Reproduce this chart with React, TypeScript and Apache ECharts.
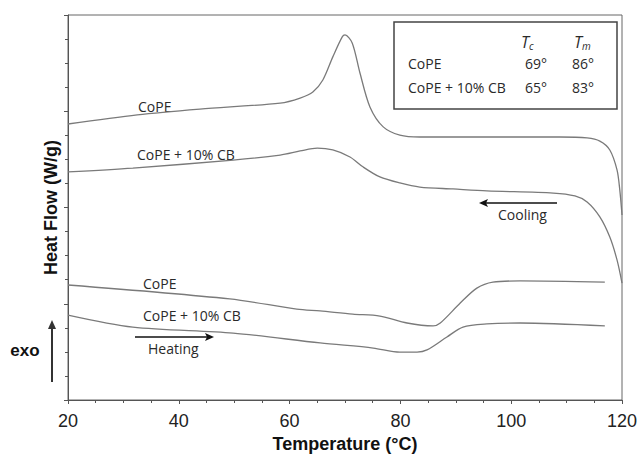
import React, { useEffect, useRef } from "react";
import * as echarts from "echarts";

// Temperature (°C) and heat flow (arbitrary units, offset curves)
const coolCoPET = [20, 32.5, 43.8, 58.3, 61.9, 64.2, 66.0, 67.8, 69.5, 70.0, 71.3, 72.7, 74.5, 76.9, 79.9, 83.5, 89.5, 101.6, 108.8, 113.7, 116.0, 117.8, 119.1, 119.6, 120];
const coolCoPEHF = [11.47, 11.85, 12.09, 12.34, 12.55, 12.8, 13.3, 14.26, 15.09, 15.17, 14.84, 13.59, 12.18, 11.35, 11.01, 10.93, 10.93, 10.93, 10.93, 10.89, 10.76, 10.39, 9.56, 8.73, 7.69];

const coolCBT = [20, 31.7, 49.8, 58.3, 61.9, 65.0, 67.8, 70.9, 73.3, 76.3, 79.9, 83.5, 89.5, 95.6, 107.6, 111.5, 113.7, 116.0, 117.8, 119.1, 120];
const coolCBHF = [9.48, 9.64, 9.97, 10.18, 10.35, 10.47, 10.39, 10.1, 9.68, 9.27, 9.02, 8.85, 8.77, 8.69, 8.6, 8.48, 8.23, 7.61, 6.77, 5.82, 4.86];

const heatCoPET = [20, 49.2, 61.3, 65.5, 71.4, 76.3, 81.2, 85.9, 87.2, 90.8, 93.8, 96.7, 101.6, 116.9];
const heatCoPEHF = [4.78, 4.2, 3.78, 3.7, 3.57, 3.49, 3.2, 3.08, 3.2, 4.03, 4.65, 4.9, 4.95, 4.9];

const heatCBT = [20, 31.7, 49.8, 65.5, 75.1, 79.9, 83.0, 84.8, 88.4, 91.3, 95.6, 101.6, 116.9];
const heatCBHF = [3.53, 3.03, 2.78, 2.37, 2.16, 1.99, 1.99, 2.08, 2.62, 3.03, 3.16, 3.2, 3.08];

const tableRows = ["CoPE", "CoPE + 10% CB"];
const tcValues = ["69°", "65°"];
const tmValues = ["86°", "83°"];

const zip = (xs: number[], ys: number[]) => xs.map((x, i) => [x, ys[i]]);

const LINE = "#7a7a7a";
const TXT = "#2a2a2a";
const labelFont = '14px "Open Sans", sans-serif';

export default function App() {
  const ref = useRef<HTMLDivElement>(null);
  useEffect(() => {
    if (!ref.current) return;
    const chart = echarts.init(ref.current, null, { renderer: "svg" });
    const mk = (name: string, xs: number[], ys: number[]) => ({
      name,
      type: "line",
      data: zip(xs, ys),
      showSymbol: false,
      smooth: 0.3,
      lineStyle: { color: LINE, width: 1.3 },
    });
    const txt = (x: number, y: number, text: string, extra: any = {}) => ({
      type: "text",
      x,
      y,
      style: { text, font: labelFont, fill: TXT, verticalAlign: "middle", ...extra },
    });
    const sub = (x: number, y: number, s: string) => ({
      type: "text",
      x,
      y,
      style: {
        text: "{i|T}{s|" + s + "}",
        verticalAlign: "middle",
        rich: {
          i: { font: 'italic 16px "Open Sans", sans-serif', fill: TXT },
          s: { font: 'italic 10px "Open Sans", sans-serif', fill: TXT, verticalAlign: "bottom", padding: [7, 0, 0, 0] },
        },
      },
    });
    chart.setOption({
      animation: false,
      backgroundColor: "#fff",
      grid: {
        left: 68,
        top: 15,
        right: 17,
        bottom: 55,
        show: true,
        borderColor: "#666",
        borderWidth: 1,
        containLabel: false,
        outerBoundsMode: "none",
      },
      xAxis: {
        type: "value",
        min: 20,
        max: 120,
        interval: 20,
        name: "Temperature (°C)",
        nameLocation: "middle",
        nameGap: 35,
        nameTextStyle: { fontFamily: "Liberation Sans", fontWeight: "bold", fontSize: 18, color: "#111" },
        axisLine: { lineStyle: { color: "#555" } },
        axisTick: { length: 4, lineStyle: { color: "#555" } },
        minorTick: { show: true, splitNumber: 4, length: 3, lineStyle: { color: "#555" } },
        axisLabel: { fontFamily: "Liberation Sans", fontSize: 18, color: "#222", margin: 12 },
        splitLine: { show: false },
      },
      yAxis: {
        type: "value",
        min: 0,
        max: 16,
        interval: 4,
        name: "Heat Flow (W/g)",
        nameLocation: "middle",
        nameGap: 8,
        nameTextStyle: { fontFamily: "Liberation Sans", fontWeight: "bold", fontSize: 18, color: "#111" },
        axisLine: { show: true, lineStyle: { color: "#555" } },
        axisTick: { show: true, length: 4, lineStyle: { color: "#555" } },
        minorTick: { show: true, splitNumber: 4, length: 3, lineStyle: { color: "#555" } },
        axisLabel: { show: false },
        splitLine: { show: false },
      },
      series: [
        mk("CoPE cooling", coolCoPET, coolCoPEHF),
        mk("CoPE + 10% CB cooling", coolCBT, coolCBHF),
        mk("CoPE heating", heatCoPET, heatCoPEHF),
        mk("CoPE + 10% CB heating", heatCBT, heatCBHF),
      ],
      graphic: [
        txt(138, 106, "CoPE"),
        txt(137, 154, "CoPE + 10% CB"),
        txt(143, 283, "CoPE"),
        txt(143, 315, "CoPE + 10% CB"),
        txt(148, 348, "Heating"),
        txt(498, 214, "Cooling"),
        // heating arrow
        { type: "line", shape: { x1: 135, y1: 337, x2: 211, y2: 337 }, style: { stroke: "#111", lineWidth: 1.3 } },
        { type: "polygon", shape: { points: [[214, 337], [205, 333], [207, 337], [205, 341]] }, style: { fill: "#111" } },
        // cooling arrow
        { type: "line", shape: { x1: 483, y1: 203, x2: 557, y2: 203 }, style: { stroke: "#111", lineWidth: 1.5 } },
        { type: "polygon", shape: { points: [[479, 203], [488, 199], [486, 203], [488, 207]] }, style: { fill: "#111" } },
        // exo arrow
        { type: "line", shape: { x1: 52, y1: 382, x2: 52, y2: 327 }, style: { stroke: "#333", lineWidth: 2 } },
        { type: "polygon", shape: { points: [[52, 320], [48, 329], [56, 329]] }, style: { fill: "#333" } },
        {
          type: "text",
          x: 25,
          y: 350,
          style: { text: "exo", font: 'bold 17px "Liberation Sans", sans-serif', fill: "#111", align: "center", verticalAlign: "middle" },
        },
        // table box
        { type: "rect", shape: { x: 394, y: 22, width: 223, height: 87 }, style: { fill: "#fff", stroke: "#444", lineWidth: 1.5 } },
        sub(521, 42, "c"),
        sub(574, 42, "m"),
        ...tableRows.map((r, i) => txt(408, 63 + i * 24, r)),
        ...tcValues.map((v, i) => txt(525, 63 + i * 24, v)),
        ...tmValues.map((v, i) => txt(572, 63 + i * 24, v)),
      ],
    });
    return () => chart.dispose();
  }, []);
  return <div ref={ref} style={{ position: "absolute", left: 0, top: 0, width: 639, height: 455 }} />;
}
